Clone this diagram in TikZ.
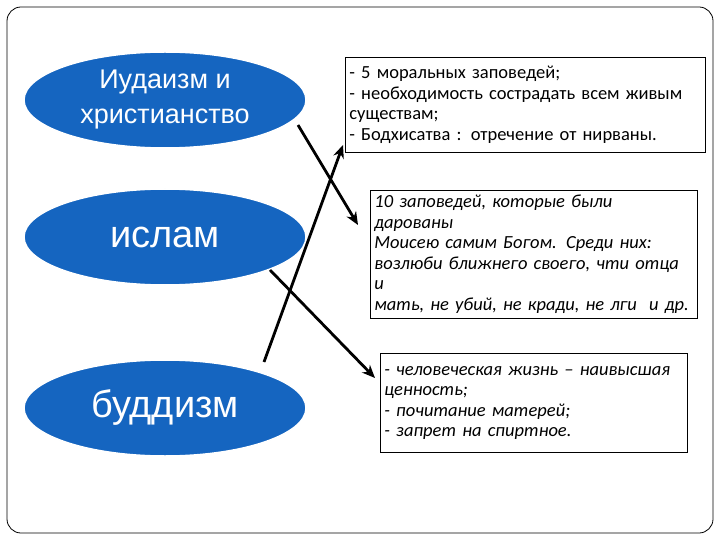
\documentclass[tikz,border=0pt]{standalone}
\usepackage{fontspec}
\setmainfont{Carlito}
\newfontfamily\arialf{Liberation Sans}
\usetikzlibrary{arrows.meta,shapes.geometric}
\definecolor{eblue}{HTML}{1565C0}
\begin{document}
\begin{tikzpicture}[x=1pt,y=-1pt,
 ell/.style={ellipse,draw=white,line width=1.5pt,fill=eblue,minimum width=282pt,minimum height=96pt,text=white,font=\arialf,align=center,inner sep=0pt},
 tbox/.style={draw=black,line width=0.8pt,anchor=north west,align=left,inner xsep=4pt,inner ysep=2pt,font=\fontsize{18.5}{20.5}\selectfont},
 arr/.style={line width=2.8pt,-{Stealth[length=13pt,width=11pt]}}]
\useasboundingbox (0,0) rectangle (720,540);
\fill[white] (0,0) rectangle (720,540);
\draw[line width=0.8pt,rounded corners=14pt] (7,7) rectangle (713,533);
\node[ell,font=\arialf\fontsize{27}{35}\selectfont] (e1) at (165,100) {Иудаизм и\\христианство};
\node[ell,font=\arialf\fontsize{38}{40}\selectfont] (e2) at (165,237) {ислам};
\node[ell,font=\arialf\fontsize{38}{40}\selectfont] (e3) at (165,408) {буддизм};
\node[tbox,text width=352pt,minimum height=95pt] (b1) at (345,57) {- 5 моральных заповедей;\\- необходимость сострадать всем живым\\существам;\\- Бодхисатва : отречение от нирваны.};
\node[tbox,text width=319pt,minimum height=95pt,inner ysep=5pt,font=\itshape\fontsize{18.5}{20.5}\selectfont] (b2) at (370,190) {10 заповедей, которые были дарованы\\Моисею самим Богом. Среди них:\\возлюби ближнего своего, чти отца и\\мать, не убий, не кради, не лги\ \ и др.};
\node[tbox,text width=299pt,minimum height=99pt,inner ysep=6pt,font=\itshape\fontsize{18.5}{20.5}\selectfont] (b3) at (380,353) {- человеческая жизнь -- наивысшая\\ценность;\\- почитание матерей;\\- запрет на спиртное.};
\coordinate (s1) at (298,125); \coordinate (t1) at (358,225);
\coordinate (s2) at (264,362); \coordinate (t2) at (343,145);
\coordinate (s3) at (270,270); \coordinate (t3) at (375,378);
\draw[arr] (s1) -- (t1);
\draw[arr] (s2) -- (t2);
\draw[arr] (s3) -- (t3);
\end{tikzpicture}
\end{document}
